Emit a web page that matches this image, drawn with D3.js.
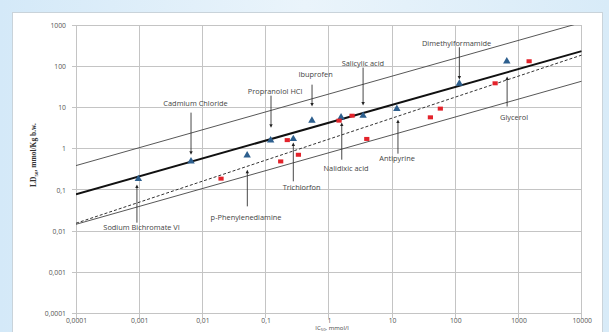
<!DOCTYPE html>
<html><head><meta charset="utf-8">
<script src="https://cdn.jsdelivr.net/npm/d3@7"></script>
<style>
html,body{margin:0;padding:0;}
svg{display:block;font-family:"Open Sans","Noto Sans",sans-serif;}
</style></head>
<body><svg id="c" width="609" height="332"></svg>
<script>
// ---- data ----
const tickValues = [0.0001, 0.001, 0.01, 0.1, 1, 10, 100, 1000, 10000];
const xTickLabels = ["0,0001","0,001","0,01","0,1","1","10","100","1000","10000"];
const yTickValues = [0.0001, 0.001, 0.01, 0.1, 1, 10, 100, 1000];
const yTickLabels = ["0,0001","0,001","0,01","0,1","1","10","100","1000"];

const triX = [0.00097, 0.0066, 0.051, 0.12, 0.274, 0.54, 1.56, 3.48, 11.9, 116, 653];
const triY = [0.184, 0.49, 0.69, 1.59, 1.72, 4.78, 5.75, 6.3, 9.2, 37.8, 132];
const sqX = [0.0197, 0.173, 0.22, 0.33, 1.45, 2.33, 3.98, 40.4, 58, 427, 1473];
const sqY = [0.187, 0.49, 1.61, 0.71, 4.78, 6.3, 1.72, 5.75, 9.35, 38.5, 132];

// regression lines: log10(y) = slope*log10(x) + intercept
const lineNames = ["upper", "main", "fit", "lower"];
const lineSlopes = [0.434, 0.434, 0.51, 0.434];
const lineIntercepts = [1.325, 0.63, 0.23, -0.10];

// annotations (data coordinates)
const annLabels = ["Sodium Bichromate VI","Cadmium Chloride","Propranolol HCl","Ibuprofen","Salicylic acid","Nalidixic acid","Trichlorfon","p-Phenylenediamine","Antipyrine","Dimethylformamide","Glycerol"];
const annArrowX = [0.00092, 0.0066, 0.1216, 0.542, 3.48, 1.6, 0.274, 0.0513, 12.4, 116, 661];
const annFromY  = [0.016, 7.48, 19.3, 35.7, 92.5, 0.54, 0.161, 0.0398, 0.756, 288, 10.5];
const annToY    = [0.134, 0.715, 3.23, 10.5, 11.1, 4.28, 1.4, 0.309, 5.06, 47.3, 56];
const annTextX  = [0.00109, 0.00778, 0.141, 0.617, 3.45, 1.87, 0.37, 0.049, 12, 105, 851];
const annTextY  = [0.0108, 11.1, 21.6, 54.4, 103, 0.292, 0.101, 0.0184, 0.497, 316, 5.06];

// ---- drawing ----
const svg = d3.select("#c");
const defs = svg.append("defs");
const bg = defs.append("linearGradient").attr("id","bg").attr("x1","0").attr("y1","0").attr("x2","1").attr("y2","0");
bg.append("stop").attr("offset","0").attr("stop-color","#d4e9f8");
bg.append("stop").attr("offset","0.5").attr("stop-color","#eaf4fb");
bg.append("stop").attr("offset","1").attr("stop-color","#d8ebf8");
svg.append("rect").attr("width",609).attr("height",332).attr("fill","url(#bg)");
svg.append("rect").attr("x",12.5).attr("y",12.5).attr("width",590).attr("height",330)
  .attr("fill","#fff").attr("stroke","#c9d3da").attr("stroke-width",1);

const x = d3.scaleLog().domain([0.0001, 10000]).range([76, 581.7]);
const y = d3.scaleLog().domain([0.0001, 1000]).range([313.5, 25]);

defs.append("clipPath").attr("id","plot").append("rect")
  .attr("x",76).attr("y",25).attr("width",581.7-76).attr("height",313.5-25);

// grid
const g = svg.append("g");
g.selectAll("line.vx").data(tickValues).join("line")
  .attr("x1",d=>x(d)).attr("x2",d=>x(d)).attr("y1",y(1000)).attr("y2",y(0.0001)+4)
  .attr("stroke","#c4c4c4").attr("stroke-width",1).attr("shape-rendering","crispEdges");
g.selectAll("line.hy").data(yTickValues).join("line")
  .attr("y1",d=>y(d)).attr("y2",d=>y(d)).attr("x1",x(0.0001)-4).attr("x2",x(10000))
  .attr("stroke","#c4c4c4").attr("stroke-width",1).attr("shape-rendering","crispEdges");

// axes labels
const xAxis = d3.axisBottom(x).tickValues(tickValues).tickFormat((d,i)=>xTickLabels[i]).tickSize(0).tickPadding(5);
const yAxis = d3.axisLeft(y).tickValues(yTickValues).tickFormat((d,i)=>yTickLabels[i]).tickSize(0).tickPadding(10);
const gx = svg.append("g").attr("transform",`translate(0,${y(0.0001)})`).call(xAxis);
const gy = svg.append("g").attr("transform",`translate(${x(0.0001)},0)`).call(yAxis);
[gx,gy].forEach(a=>{
  a.select(".domain").remove();
  a.selectAll("text").attr("font-size",6.8).attr("fill","#555").attr("font-family","Open Sans, sans-serif");
});

// regression lines
const lineG = svg.append("g").attr("clip-path","url(#plot)");
const styles = {upper:{w:0.9,c:"#444",d:null}, main:{w:2,c:"#111",d:null}, fit:{w:1,c:"#333",d:"3,2"}, lower:{w:0.9,c:"#444",d:null}};
lineNames.forEach((n,i)=>{
  const xs = [0.0001, 10000];
  const pts = xs.map(v=>[x(v), y(Math.pow(10, lineSlopes[i]*Math.log10(v)+lineIntercepts[i]))]);
  lineG.append("path").attr("d", d3.line()(pts)).attr("fill","none")
    .attr("stroke",styles[n].c).attr("stroke-width",styles[n].w)
    .attr("stroke-dasharray",styles[n].d);
});

// markers
const triSym = d3.symbol().type(d3.symbolTriangle).size(24);
svg.append("g").selectAll("path").data(triX).join("path")
  .attr("d",triSym).attr("transform",(d,i)=>`translate(${x(d)},${y(triY[i])})`)
  .attr("fill","#2d5f8e");
svg.append("g").selectAll("rect").data(sqX).join("rect")
  .attr("x",d=>x(d)-2.6).attr("y",(d,i)=>y(sqY[i])-2).attr("width",5.2).attr("height",4)
  .attr("fill","#e3232b");

// annotations
const ann = svg.append("g");
annLabels.forEach((lab,i)=>{
  const ax = x(annArrowX[i]), y0 = y(annFromY[i]), y1 = y(annToY[i]);
  const dir = y1 > y0 ? 1 : -1;
  ann.append("line").attr("x1",ax).attr("x2",ax).attr("y1",y0).attr("y2",y1-dir*3)
    .attr("stroke","#333").attr("stroke-width",0.9);
  ann.append("path").attr("d",`M${ax-1.7},${y1-dir*3.5}L${ax+1.7},${y1-dir*3.5}L${ax},${y1}Z`).attr("fill","#222");
  ann.append("text").attr("x",x(annTextX[i])).attr("y",y(annTextY[i]))
    .attr("text-anchor","middle").attr("font-size",7.4).attr("fill","#444").text(lab);
});

// axis titles
const yt = svg.append("text").attr("transform","translate(36,155) rotate(-90)")
  .attr("text-anchor","middle").attr("font-size",7.5).attr("font-weight","bold")
  .attr("font-family","Liberation Serif, serif").attr("fill","#333");
yt.append("tspan").text("LD");
yt.append("tspan").attr("font-size",5).attr("dy",1.5).text("50");
yt.append("tspan").attr("dy",-1.5).text(", mmol/Kg b.w.");

const xt = svg.append("text").attr("x",332).attr("y",330).attr("text-anchor","middle")
  .attr("font-size",6).attr("fill","#444");
xt.append("tspan").text("IC");
xt.append("tspan").attr("font-size",4.2).attr("dy",0.8).text("50");
xt.append("tspan").attr("dy",-0.8).text(", mmol/l");
</script></body></html>
